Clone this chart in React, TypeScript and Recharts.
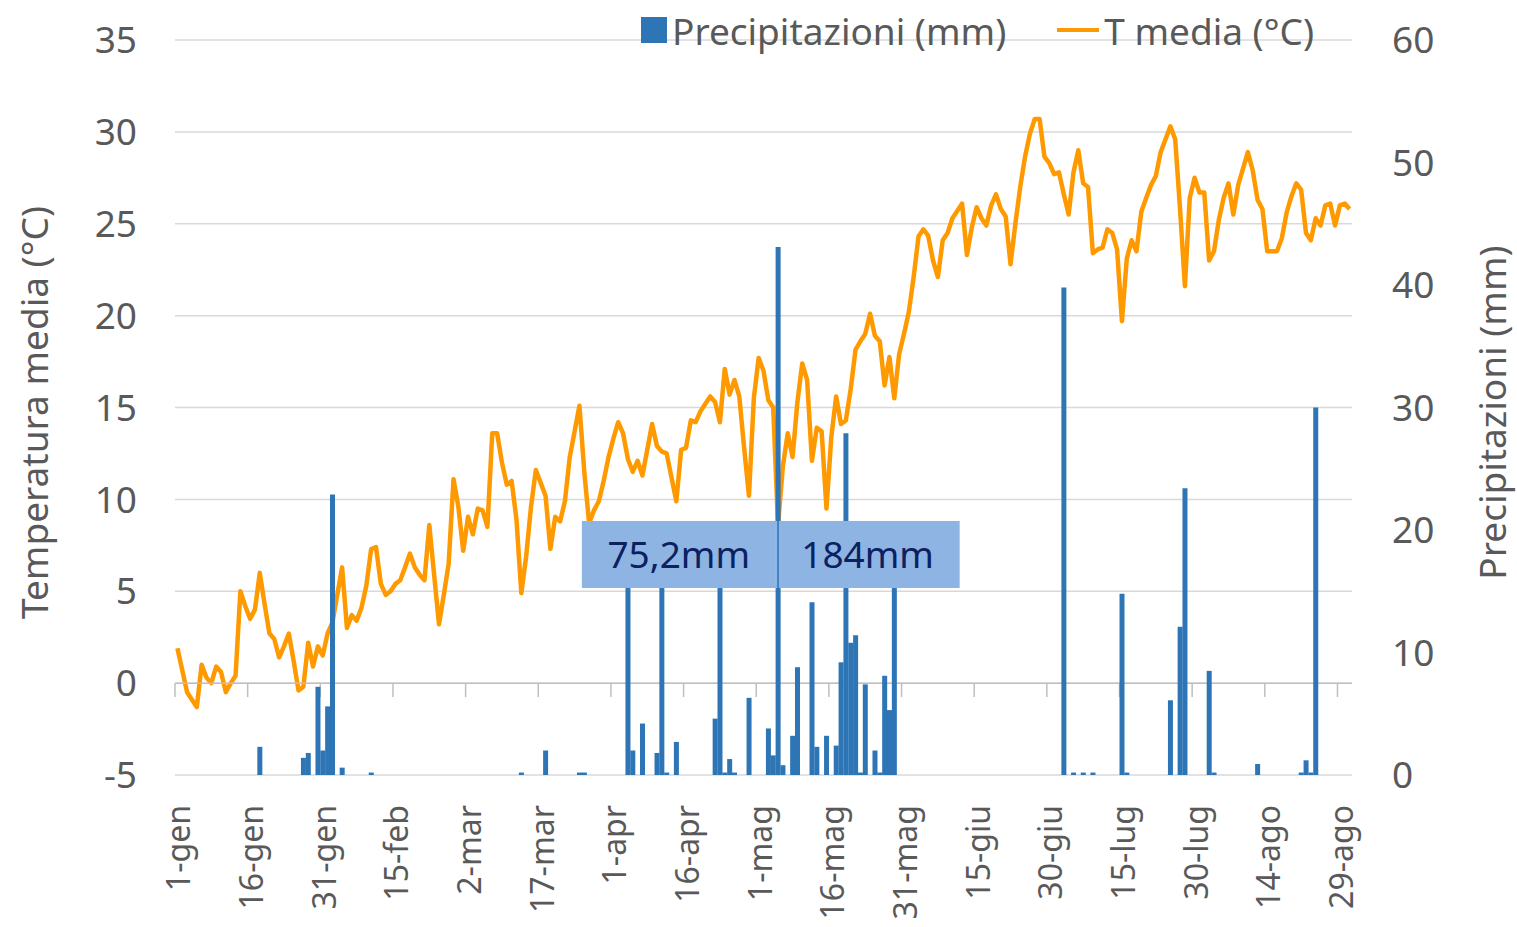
import React from 'react';
import {
  ComposedChart, Bar, Line, XAxis, YAxis, CartesianGrid, Legend,
  ReferenceArea, ReferenceLine,
} from 'recharts';

// calendar: 1-gen .. 31-ago
const MONTHS = ['gen', 'feb', 'mar', 'apr', 'mag', 'giu', 'lug', 'ago'];
const MONTH_DAYS = [31, 28, 31, 30, 31, 30, 31, 31];
const DAYS: string[] = MONTHS.flatMap((m, i) =>
  Array.from({ length: MONTH_DAYS[i] }, (_, d) => `${d + 1}-${m}`),
);

// T media giornaliera (°C), one value per day
const T_MEDIA = [
  1.9, 0.7, -0.5, -0.9, -1.3, 1.0, 0.3, 0.0, 0.9, 0.6,
  -0.5, 0.0, 0.4, 5.0, 4.2, 3.5, 4.0, 6.0, 4.3, 2.7,
  2.4, 1.4, 2.0, 2.7, 1.2, -0.4, -0.2, 2.2, 0.9, 2.0,
  1.5, 2.7, 3.3, 4.8, 6.3, 3.0, 3.7, 3.4, 4.1, 5.3,
  7.3, 7.4, 5.4, 4.8, 5.0, 5.4, 5.6, 6.3, 7.05, 6.3,
  5.9, 5.6, 8.6, 5.9, 3.2, 4.8, 6.5, 11.1, 9.6, 7.2,
  9.05, 8.1, 9.5, 9.4, 8.5, 13.6, 13.6, 12.0, 10.8, 11.0,
  8.9, 4.9, 6.9, 9.6, 11.6, 10.9, 10.2, 7.3, 9.05, 8.8,
  9.9, 12.3, 13.7, 15.1, 11.5, 8.7, 9.4, 9.9, 11.0, 12.3,
  13.3, 14.2, 13.6, 12.2, 11.5, 12.1, 11.3, 12.7, 14.1, 12.9,
  12.6, 12.5, 11.2, 9.9, 12.7, 12.8, 14.3, 14.2, 14.8, 15.2,
  15.6, 15.3, 14.2, 17.1, 15.7, 16.5, 15.6, 12.8, 10.2, 15.5,
  17.7, 17.0, 15.4, 15.0, 8.6, 11.8, 13.6, 12.3, 15.3, 17.4,
  16.5, 12.1, 13.9, 13.7, 9.5, 13.4, 15.6, 14.1, 14.3, 16.0,
  18.15, 18.6, 19.0, 20.1, 18.9, 18.6, 16.2, 17.75, 15.5, 17.9,
  19.0, 20.2, 22.1, 24.3, 24.7, 24.35, 23.0, 22.1, 24.1, 24.5,
  25.3, 25.7, 26.1, 23.3, 24.8, 25.9, 25.3, 24.9, 26.0, 26.6,
  25.8, 25.4, 22.8, 25.0, 27.0, 28.65, 29.9, 30.7, 30.7, 28.65,
  28.3, 27.7, 27.8, 26.6, 25.5, 27.8, 29.0, 27.2, 27.0, 23.4,
  23.6, 23.7, 24.7, 24.5, 23.6, 19.7, 23.1, 24.1, 23.5, 25.65,
  26.4, 27.1, 27.6, 28.9, 29.6, 30.3, 29.6, 25.8, 21.6, 26.4,
  27.5, 26.7, 26.7, 23.0, 23.5, 25.2, 26.4, 27.2, 25.5, 27.1,
  28.0, 28.9, 27.9, 26.3, 25.8, 23.5, 23.5, 23.5, 24.2, 25.6,
  26.5, 27.2, 26.85, 24.5, 24.1, 25.3, 24.9, 26.0, 26.1, 24.9,
  26.0, 26.1, 25.8,
];

// rainy days (index from 1-gen) and mm
const RAIN_DAY = [
  17, 26, 27, 29, 30, 31, 32, 34, 40, 71, 76, 83, 84,
  93, 94, 96, 99, 100, 101, 103, 111, 112, 113, 114, 115, 118,
  122, 123, 124, 125, 127, 128, 131, 132, 134, 136, 137, 138, 139, 140,
  141, 142, 144, 145, 146, 147, 148,
  183, 185, 187, 189, 195, 196, 205, 207, 208, 213, 214, 223, 232, 233, 234, 235,
];
const RAIN_MM = [
  2.3, 1.4, 1.8, 7.2, 2.0, 5.6, 22.9, 0.6, 0.2, 0.2, 2.0, 0.2, 0.2,
  17.2, 2.0, 4.2, 1.8, 17.3, 0.2, 2.7, 4.6, 17.2, 0.2, 1.3, 0.2, 6.3,
  3.8, 1.6, 43.1, 0.8, 3.2, 8.8, 14.1, 2.3, 3.2, 2.4, 9.2, 27.9, 10.8, 11.4,
  0.2, 7.4, 2.0, 0.2, 8.1, 5.3, 18.2,
  39.8, 0.2, 0.2, 0.2, 14.8, 0.2, 6.1, 12.1, 23.4, 8.5, 0.2, 0.9, 0.2, 1.2, 0.2, 30.0,
];

const T_TICKS = [-5, 0, 5, 10, 15, 20, 25, 30, 35];
const P_TICKS = [0, 10, 20, 30, 40, 50, 60];
const TICK_DAYS = DAYS.filter((_, i) => i % 15 === 0);

// totals shown in the box (aprile | maggio)
const BOX_LABELS = ['75,2mm', '184mm'];
const BOX_DAYS = [[84, 123], [124, 161]];
const BOX_T = [5.18, 8.82];

const data = DAYS.map((day, i) => {
  const k = RAIN_DAY.indexOf(i);
  return { day, t: T_MEDIA[i], p: k >= 0 ? RAIN_MM[k] : null };
});

const GREY = '#595959';
const FS = 37;

function DayTick({ x, y, payload }: any) {
  return (
    <text x={x} y={y} dy={13} textAnchor="end" fill={GREY} fontSize={32}
      transform={`rotate(-90, ${x}, ${y})`}>
      {payload.value}
    </text>
  );
}

function AxisTitle({ viewBox, text, dx }: any) {
  const vb = viewBox || { x: 0, y: 40, width: 0, height: 735 };
  const x = vb.x + dx;
  const y = vb.y + vb.height / 2 + 5;
  return (
    <text x={x} y={y} textAnchor="middle" fill={GREY} fontSize={FS}
      transform={`rotate(-90, ${x}, ${y})`}>
      {text}
    </text>
  );
}

function LegendBox() {
  return (
    <div style={{ display: 'flex', alignItems: 'center', fontSize: FS, color: GREY, whiteSpace: 'nowrap', height: 50 }}>
      <span style={{ width: 26, height: 26, background: '#2E75B6', marginRight: 5, display: 'inline-block' }} />
      <span>Precipitazioni (mm)</span>
      <span style={{ width: 42, height: 4, background: '#FF9900', marginLeft: 51, marginRight: 5, display: 'inline-block' }} />
      <span>T media (°C)</span>
    </div>
  );
}

export default function App() {
  return (
    <div style={{ position: 'absolute', left: 0, top: 0, width: 1517, height: 927, background: '#fff', fontFamily: '"Noto Sans", sans-serif' }}>
      <ComposedChart width={1517} height={927} data={data} barCategoryGap={0}
        margin={{ top: 40, right: 0, bottom: 0, left: 0 }}>
        <CartesianGrid yAxisId="t" vertical={false} stroke="#d9d9d9" strokeWidth={1.5} />
        <XAxis dataKey="day" interval={14} height={152} tickSize={0} tickMargin={30}
          axisLine={false} tickLine={false} tick={<DayTick />} />
        <YAxis yAxisId="t" domain={[-5, 35]} ticks={T_TICKS} width={175} tickSize={0} tickMargin={38}
          axisLine={false} tickLine={false} tick={{ fill: GREY, fontSize: FS }}
          label={{ content: (p: any) => <AxisTitle viewBox={p.viewBox} text="Temperatura media (°C)" dx={48} /> }} />
        <YAxis yAxisId="p" orientation="right" domain={[0, 60]} ticks={P_TICKS} width={165} tickSize={0} tickMargin={40}
          axisLine={false} tickLine={false} tick={{ fill: GREY, fontSize: FS, textAnchor: 'start' }}
          label={{ content: (p: any) => <AxisTitle viewBox={p.viewBox} text="Precipitazioni (mm)" dx={154} /> }} />
        <ReferenceLine yAxisId="t" y={0} stroke="#bfbfbf" strokeWidth={1.5} />
        {TICK_DAYS.map((d) => (
          <ReferenceLine key={d} yAxisId="t" position="start" stroke="#bfbfbf" strokeWidth={1.5}
            segment={[{ x: d, y: 0 }, { x: d, y: -0.76 }]} />
        ))}
        <Line yAxisId="t" dataKey="t" name="T media (°C)" type="linear" stroke="#FF9900" strokeWidth={4.5}
          strokeLinejoin="round" dot={false} activeDot={false} isAnimationActive={false} zIndex={300} />
        <Bar yAxisId="p" dataKey="p" name="Precipitazioni (mm)" fill="#2E75B6" isAnimationActive={false} zIndex={450} />
        {BOX_LABELS.map((txt, i) => (
          <ReferenceArea key={txt} yAxisId="t" x1={DAYS[BOX_DAYS[i][0]]} x2={DAYS[BOX_DAYS[i][1]]}
            y1={BOX_T[0]} y2={BOX_T[1]} fill="#8EB4E3" fillOpacity={1} stroke="none" zIndex={1500}
            label={{ value: txt, position: 'center', fill: '#0B2160', fontSize: FS }} />
        ))}
        <ReferenceLine yAxisId="t" stroke="#2E75B6" strokeWidth={1.5} zIndex={1600}
          segment={[{ x: DAYS[124], y: BOX_T[0] }, { x: DAYS[124], y: BOX_T[1] }]} />
        <Legend layout="horizontal" verticalAlign="middle" align="center"
          wrapperStyle={{ top: 5, left: 641, width: 720, height: 50 }} content={() => <LegendBox />} />
      </ComposedChart>
    </div>
  );
}
